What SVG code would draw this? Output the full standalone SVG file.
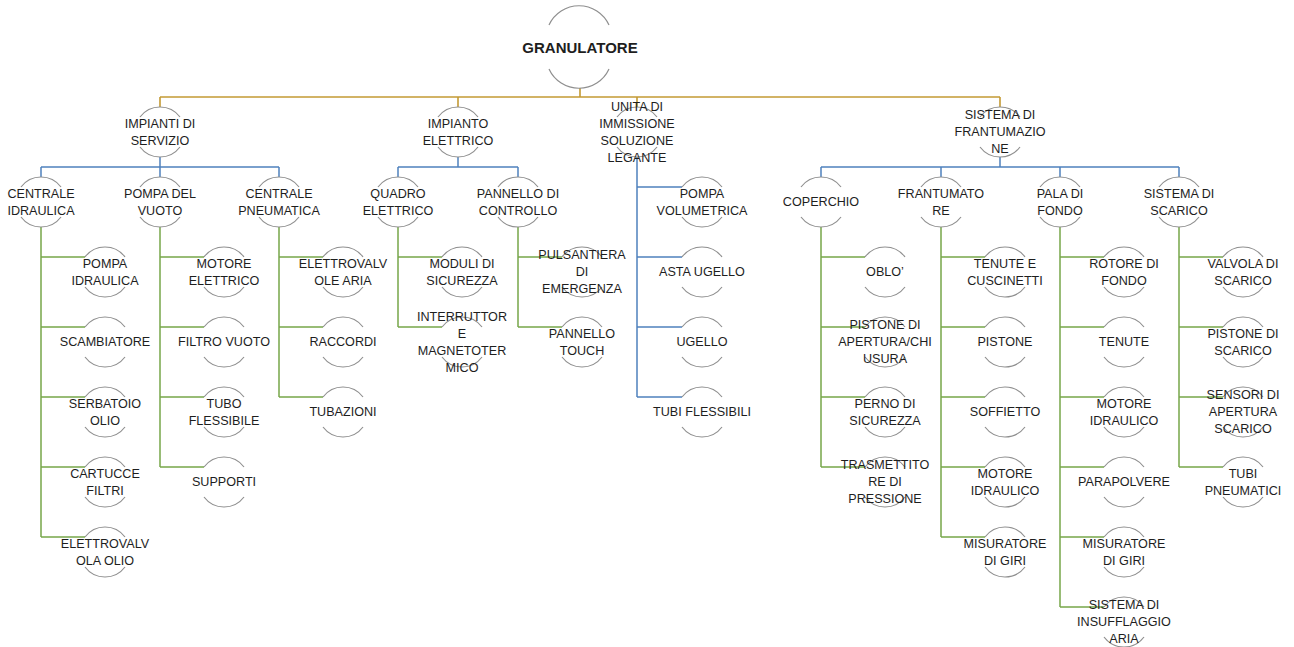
<svg xmlns="http://www.w3.org/2000/svg" xmlns:xlink="http://www.w3.org/1999/xlink" width="1294" height="647" viewBox="0 0 1294 647">
<style>
.arc{fill:none;stroke:#8f8f8f;stroke-width:1.2}
.t{font-family:"Liberation Sans",Arial,sans-serif;font-size:12.6px;fill:#1e1e1e;text-anchor:middle;dominant-baseline:central}
.root{font-size:15px;font-weight:bold}
.or{fill:none;stroke:#c49a34;stroke-width:1.6}
.bl{fill:none;stroke:#4f81bd;stroke-width:1.5}
.gr{fill:none;stroke:#77a64a;stroke-width:1.5}
</style>
<defs>
<path id="a" class="arc" d="M-20,-15 A25,25 0 0 1 20,-15 M-20,15 A25,25 0 0 0 20,15"/>
</defs>
<rect width="1294" height="647" fill="#fff"/>
<g id="connectors">
<path class="or" d="M580,88V97M160,97H1000M160,97V107M458,97V107M637,97V107M1000,97V107"/>
<path class="bl" d="M160,157V167M41,167H279M41,167V177M160,167V177M279,167V177"/>
<path class="bl" d="M458,157V167M398,167H518M398,167V177M518,167V177"/>
<path class="bl" d="M1000,157V167M821,167H1179M821,167V177M941,167V177M1060,167V177M1179,167V177"/>
<path class="bl" d="M637,157V397M637,187H682M637,257H682M637,327H682M637,397H682"/>
<path class="gr" d="M41,227V537M41,257H85M41,327H85M41,397H85M41,467H85M41,537H85"/>
<path class="gr" d="M160,227V467M160,257H204M160,327H204M160,397H204M160,467H204"/>
<path class="gr" d="M279,227V397M279,257H323M279,327H323M279,397H323"/>
<path class="gr" d="M398,227V327M398,257H442M398,327H442"/>
<path class="gr" d="M518,227V327M518,257H562M518,327H562"/>
<path class="gr" d="M821,227V467M821,257H865M821,327H865M821,397H865M821,467H865"/>
<path class="gr" d="M941,227V537M941,257H985M941,327H985M941,397H985M941,467H985M941,537H985"/>
<path class="gr" d="M1060,227V607M1060,257H1104M1060,327H1104M1060,397H1104M1060,467H1104M1060,537H1104M1060,607H1104"/>
<path class="gr" d="M1179,227V467M1179,257H1223M1179,327H1223M1179,397H1223M1179,467H1223"/>
</g>
<g id="root"><path class="arc" d="M549,25 A33,33 0 0 1 609,25 M549,69 A33,33 0 0 0 609,69"/><text class="t root" x="580" y="47">GRANULATORE</text></g>
<g id="impianti-servizio"><use href="#a" x="160" y="132"/><text class="t"><tspan x="160" y="123.5">IMPIANTI DI</tspan><tspan x="160" y="140.5">SERVIZIO</tspan></text></g>
<g id="impianto-elettrico"><use href="#a" x="458" y="132"/><text class="t"><tspan x="458" y="123.5">IMPIANTO</tspan><tspan x="458" y="140.5">ELETTRICO</tspan></text></g>
<g id="unita-immissione"><use href="#a" x="637" y="132"/><text class="t"><tspan x="637" y="106.5">UNITA DI</tspan><tspan x="637" y="123.5">IMMISSIONE</tspan><tspan x="637" y="140.5">SOLUZIONE</tspan><tspan x="637" y="157.5">LEGANTE</tspan></text></g>
<g id="sistema-frantumazione"><use href="#a" x="1000" y="132"/><text class="t"><tspan x="1000" y="115">SISTEMA DI</tspan><tspan x="1000" y="132">FRANTUMAZIO</tspan><tspan x="1000" y="149">NE</tspan></text></g>
<g id="centrale-idraulica"><use href="#a" x="41" y="202"/><text class="t"><tspan x="41" y="193.5">CENTRALE</tspan><tspan x="41" y="210.5">IDRAULICA</tspan></text></g>
<g id="pompa-vuoto"><use href="#a" x="160" y="202"/><text class="t"><tspan x="160" y="193.5">POMPA DEL</tspan><tspan x="160" y="210.5">VUOTO</tspan></text></g>
<g id="centrale-pneumatica"><use href="#a" x="279" y="202"/><text class="t"><tspan x="279" y="193.5">CENTRALE</tspan><tspan x="279" y="210.5">PNEUMATICA</tspan></text></g>
<g id="quadro-elettrico"><use href="#a" x="398" y="202"/><text class="t"><tspan x="398" y="193.5">QUADRO</tspan><tspan x="398" y="210.5">ELETTRICO</tspan></text></g>
<g id="pannello-controllo"><use href="#a" x="518" y="202"/><text class="t"><tspan x="518" y="193.5">PANNELLO DI</tspan><tspan x="518" y="210.5">CONTROLLO</tspan></text></g>
<g id="coperchio"><use href="#a" x="821" y="202"/><text class="t" x="821" y="202">COPERCHIO</text></g>
<g id="frantumatore"><use href="#a" x="941" y="202"/><text class="t"><tspan x="941" y="193.5">FRANTUMATO</tspan><tspan x="941" y="210.5">RE</tspan></text></g>
<g id="pala-fondo"><use href="#a" x="1060" y="202"/><text class="t"><tspan x="1060" y="193.5">PALA DI</tspan><tspan x="1060" y="210.5">FONDO</tspan></text></g>
<g id="sistema-scarico"><use href="#a" x="1179" y="202"/><text class="t"><tspan x="1179" y="193.5">SISTEMA DI</tspan><tspan x="1179" y="210.5">SCARICO</tspan></text></g>
<g id="pompa-volumetrica"><use href="#a" x="702" y="202"/><text class="t"><tspan x="702" y="193.5">POMPA</tspan><tspan x="702" y="210.5">VOLUMETRICA</tspan></text></g>
<g id="asta-ugello"><use href="#a" x="702" y="272"/><text class="t" x="702" y="272">ASTA UGELLO</text></g>
<g id="ugello"><use href="#a" x="702" y="342"/><text class="t" x="702" y="342">UGELLO</text></g>
<g id="tubi-flessibili"><use href="#a" x="702" y="412"/><text class="t" x="702" y="412">TUBI FLESSIBILI</text></g>
<g id="pompa-idraulica"><use href="#a" x="105" y="272"/><text class="t"><tspan x="105" y="263.5">POMPA</tspan><tspan x="105" y="280.5">IDRAULICA</tspan></text></g>
<g id="scambiatore"><use href="#a" x="105" y="342"/><text class="t" x="105" y="342">SCAMBIATORE</text></g>
<g id="serbatoio-olio"><use href="#a" x="105" y="412"/><text class="t"><tspan x="105" y="403.5">SERBATOIO</tspan><tspan x="105" y="420.5">OLIO</tspan></text></g>
<g id="cartucce-filtri"><use href="#a" x="105" y="482"/><text class="t"><tspan x="105" y="473.5">CARTUCCE</tspan><tspan x="105" y="490.5">FILTRI</tspan></text></g>
<g id="elettrovalvola-olio"><use href="#a" x="105" y="552"/><text class="t"><tspan x="105" y="543.5">ELETTROVALV</tspan><tspan x="105" y="560.5">OLA OLIO</tspan></text></g>
<g id="motore-elettrico"><use href="#a" x="224" y="272"/><text class="t"><tspan x="224" y="263.5">MOTORE</tspan><tspan x="224" y="280.5">ELETTRICO</tspan></text></g>
<g id="filtro-vuoto"><use href="#a" x="224" y="342"/><text class="t" x="224" y="342">FILTRO VUOTO</text></g>
<g id="tubo-flessibile"><use href="#a" x="224" y="412"/><text class="t"><tspan x="224" y="403.5">TUBO</tspan><tspan x="224" y="420.5">FLESSIBILE</tspan></text></g>
<g id="supporti"><use href="#a" x="224" y="482"/><text class="t" x="224" y="482">SUPPORTI</text></g>
<g id="elettrovalvole-aria"><use href="#a" x="343" y="272"/><text class="t"><tspan x="343" y="263.5">ELETTROVALV</tspan><tspan x="343" y="280.5">OLE ARIA</tspan></text></g>
<g id="raccordi"><use href="#a" x="343" y="342"/><text class="t" x="343" y="342">RACCORDI</text></g>
<g id="tubazioni"><use href="#a" x="343" y="412"/><text class="t" x="343" y="412">TUBAZIONI</text></g>
<g id="moduli-sicurezza"><use href="#a" x="462" y="272"/><text class="t"><tspan x="462" y="263.5">MODULI DI</tspan><tspan x="462" y="280.5">SICUREZZA</tspan></text></g>
<g id="interruttore"><use href="#a" x="462" y="342"/><text class="t"><tspan x="462" y="316.5">INTERRUTTOR</tspan><tspan x="462" y="333.5">E</tspan><tspan x="462" y="350.5">MAGNETOTER</tspan><tspan x="462" y="367.5">MICO</tspan></text></g>
<g id="pulsantiera"><use href="#a" x="582" y="272"/><text class="t"><tspan x="582" y="255">PULSANTIERA</tspan><tspan x="582" y="272">DI</tspan><tspan x="582" y="289">EMERGENZA</tspan></text></g>
<g id="pannello-touch"><use href="#a" x="582" y="342"/><text class="t"><tspan x="582" y="333.5">PANNELLO</tspan><tspan x="582" y="350.5">TOUCH</tspan></text></g>
<g id="oblo"><use href="#a" x="885" y="272"/><text class="t" x="885" y="272">OBLO’</text></g>
<g id="pistone-apertura"><use href="#a" x="885" y="342"/><text class="t"><tspan x="885" y="325">PISTONE DI</tspan><tspan x="885" y="342">APERTURA/CHI</tspan><tspan x="885" y="359">USURA</tspan></text></g>
<g id="perno-sicurezza"><use href="#a" x="885" y="412"/><text class="t"><tspan x="885" y="403.5">PERNO DI</tspan><tspan x="885" y="420.5">SICUREZZA</tspan></text></g>
<g id="trasmettitore"><use href="#a" x="885" y="482"/><text class="t"><tspan x="885" y="465">TRASMETTITO</tspan><tspan x="885" y="482">RE DI</tspan><tspan x="885" y="499">PRESSIONE</tspan></text></g>
<g id="tenute-cuscinetti"><use href="#a" x="1005" y="272"/><text class="t"><tspan x="1005" y="263.5">TENUTE E</tspan><tspan x="1005" y="280.5">CUSCINETTI</tspan></text></g>
<g id="pistone"><use href="#a" x="1005" y="342"/><text class="t" x="1005" y="342">PISTONE</text></g>
<g id="soffietto"><use href="#a" x="1005" y="412"/><text class="t" x="1005" y="412">SOFFIETTO</text></g>
<g id="motore-idraulico-1"><use href="#a" x="1005" y="482"/><text class="t"><tspan x="1005" y="473.5">MOTORE</tspan><tspan x="1005" y="490.5">IDRAULICO</tspan></text></g>
<g id="misuratore-giri-1"><use href="#a" x="1005" y="552"/><text class="t"><tspan x="1005" y="543.5">MISURATORE</tspan><tspan x="1005" y="560.5">DI GIRI</tspan></text></g>
<g id="rotore-fondo"><use href="#a" x="1124" y="272"/><text class="t"><tspan x="1124" y="263.5">ROTORE DI</tspan><tspan x="1124" y="280.5">FONDO</tspan></text></g>
<g id="tenute"><use href="#a" x="1124" y="342"/><text class="t" x="1124" y="342">TENUTE</text></g>
<g id="motore-idraulico-2"><use href="#a" x="1124" y="412"/><text class="t"><tspan x="1124" y="403.5">MOTORE</tspan><tspan x="1124" y="420.5">IDRAULICO</tspan></text></g>
<g id="parapolvere"><use href="#a" x="1124" y="482"/><text class="t" x="1124" y="482">PARAPOLVERE</text></g>
<g id="misuratore-giri-2"><use href="#a" x="1124" y="552"/><text class="t"><tspan x="1124" y="543.5">MISURATORE</tspan><tspan x="1124" y="560.5">DI GIRI</tspan></text></g>
<g id="insufflaggio"><use href="#a" x="1124" y="622"/><text class="t"><tspan x="1124" y="605">SISTEMA DI</tspan><tspan x="1124" y="622">INSUFFLAGGIO</tspan><tspan x="1124" y="639">ARIA</tspan></text></g>
<g id="valvola-scarico"><use href="#a" x="1243" y="272"/><text class="t"><tspan x="1243" y="263.5">VALVOLA DI</tspan><tspan x="1243" y="280.5">SCARICO</tspan></text></g>
<g id="pistone-scarico"><use href="#a" x="1243" y="342"/><text class="t"><tspan x="1243" y="333.5">PISTONE DI</tspan><tspan x="1243" y="350.5">SCARICO</tspan></text></g>
<g id="sensori-apertura"><use href="#a" x="1243" y="412"/><text class="t"><tspan x="1243" y="395">SENSORI DI</tspan><tspan x="1243" y="412">APERTURA</tspan><tspan x="1243" y="429">SCARICO</tspan></text></g>
<g id="tubi-pneumatici"><use href="#a" x="1243" y="482"/><text class="t"><tspan x="1243" y="473.5">TUBI</tspan><tspan x="1243" y="490.5">PNEUMATICI</tspan></text></g>
</svg>
